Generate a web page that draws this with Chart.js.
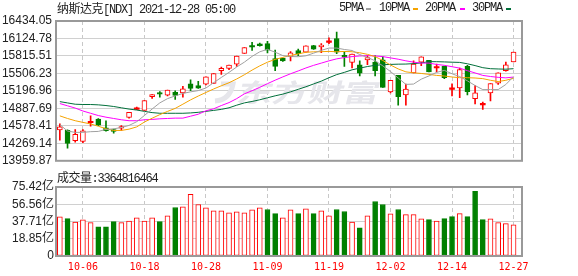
<!DOCTYPE html>
<html>
<head>
<meta charset="utf-8">
<title>纳斯达克 NDX</title>
<script src="https://cdn.jsdelivr.net/npm/chart.js@4.4.1/dist/chart.umd.min.js"></script>
<style>
  body { margin: 0; background: #fff; }
  #page { position: relative; width: 578px; height: 276px; overflow: hidden; }
  .box { position: absolute; left: 0; width: 578px; }
  .t { position: absolute; white-space: nowrap; font: 12px "Liberation Mono", monospace; letter-spacing: -1.2px; color: #222; line-height: 14px; }
  .cn { font-family: "Noto Sans CJK SC", sans-serif; letter-spacing: -0.5px; font-size: 12px; }
  .sw { position: absolute; top: 8px; width: 5px; height: 2px; }
</style>
</head>
<body>
<div id="page">
  <div class="box" style="top:0;height:172px"><canvas id="priceChart" width="578" height="172"></canvas></div>
  <div class="box" style="top:176px;height:100px"><canvas id="volChart" width="578" height="100"></canvas></div>

  <div class="t" style="left:57px;top:1px"><span class="cn">纳斯达克</span>[NDX] 2021-12-28 05:00</div>

  <div class="t" style="left:339px;top:1px">5PMA</div>
  <div class="sw" style="left:366px;background:#a0a0a0"></div>
  <div class="t" style="left:379px;top:1px">10PMA</div>
  <div class="sw" style="left:413px;background:#f5a300"></div>
  <div class="t" style="left:425px;top:1px">20PMA</div>
  <div class="sw" style="left:460px;background:#ff00ff"></div>
  <div class="t" style="left:472px;top:1px">30PMA</div>
  <div class="sw" style="left:506px;background:#006f3a"></div>

  <div class="t" style="left:57px;top:170px"><span class="cn">成交量</span>:3364816464</div>
</div>

<script>
// trading days shown
const dates = [
  '10-01','10-04','10-05','10-06','10-07','10-08','10-11','10-12','10-13','10-14',
  '10-15','10-18','10-19','10-20','10-21','10-22','10-25','10-26','10-27','10-28',
  '10-29','11-01','11-02','11-03','11-04','11-05','11-08','11-09','11-10','11-11',
  '11-12','11-15','11-16','11-17','11-18','11-19','11-22','11-23','11-24','11-26',
  '11-29','11-30','12-01','12-02','12-03','12-06','12-07','12-08','12-09','12-10',
  '12-13','12-14','12-15','12-16','12-17','12-20','12-21','12-22','12-23','12-27'
];

const open = [
  14508,14497,14314,14302,14640,14698,14543,14514,14537,14726,
  14880,14852,15093,15167,15122,15173,15162,15322,15293,15316,
  15328,15557,15597,15672,15861,15993,16016,16033,15769,15775,
  15803,15912,15884,15998,15975,16065,16125,15826,15700,15660,
  15746,15706,15746,15179,15471,15127,15517,15706,15740,15612,
  15632,15234,15248,15632,15058,14960,15162,15334,15557,15712
];
const high = [
  14612,14508,14514,14514,14755,14705,14669,14520,14583,14818,
  14910,15024,15133,15185,15213,15196,15276,15391,15368,15448,
  15505,15620,15655,15815,15964,16056,16044,16073,15918,15780,
  15895,15935,15993,16005,16033,16136,16238,15890,15849,15729,
  15821,15821,15803,15385,15471,15316,15729,15798,15740,15672,
  15637,15322,15603,15649,15293,15001,15328,15517,15706,15884
];
const low = [
  14325,14182,14291,14279,14571,14580,14486,14451,14497,14715,
  14864,14852,15064,15087,15110,15047,15087,15202,15242,15305,
  15328,15488,15574,15632,15861,15912,15987,15867,15557,15717,
  15729,15821,15884,15930,15872,16033,15855,15632,15603,15460,
  15660,15460,15259,15162,14944,14944,15517,15643,15534,15534,
  15414,15110,15076,15127,14967,14869,15018,15311,15546,15712
];
const close = [
  14560,14268,14428,14491,14652,14589,14491,14480,14566,14818,
  14887,15024,15133,15139,15213,15116,15232,15242,15246,15448,
  15505,15597,15655,15815,15964,15981,16005,15918,15632,15729,
  15872,15855,15993,15935,16010,16073,15884,15792,15849,15511,
  15786,15557,15259,15385,15093,15230,15672,15798,15534,15620,
  15431,15242,15574,15185,15162,14967,15328,15517,15660,15884
];

// moving average lines
const ma5 = [
  14600,14486,14463,14463,14475,14480,14515,14525,14550,14586,
  14652,14762,14876,14985,15060,15108,15152,15180,15202,15248,
  15342,15435,15525,15620,15706,15808,15889,15933,15882,15822,
  15805,15802,15818,15865,15915,15955,15955,15930,15912,15840,
  15790,15730,15640,15540,15425,15312,15318,15405,15462,15525,
  15560,15500,15450,15375,15292,15220,15220,15220,15310,15450
];
const ma10 = [
  14755,14709,14669,14640,14612,14572,14526,14497,14497,14520,
  14560,14646,14713,14777,14834,14887,14962,15038,15106,15169,
  15231,15288,15341,15408,15483,15565,15640,15705,15755,15790,
  15825,15852,15880,15889,15891,15896,15890,15895,15890,15872,
  15844,15804,15735,15655,15586,15534,15517,15506,15489,15471,
  15460,15443,15431,15431,15425,15414,15385,15362,15385,15420
];
const ma20 = [
  14973,14933,14893,14841,14801,14761,14732,14709,14686,14669,
  14669,14686,14692,14703,14709,14715,14715,14749,14784,14845,
  14880,14938,14990,15060,15145,15200,15260,15325,15387,15445,
  15500,15550,15603,15649,15689,15729,15764,15787,15804,15815,
  15821,15815,15804,15781,15758,15729,15706,15689,15689,15665,
  15650,15625,15600,15555,15515,15471,15452,15437,15428,15442
];
const ma30 = [
  15007,14984,14961,14956,14956,14950,14938,14921,14898,14875,
  14858,14835,14813,14801,14801,14801,14801,14807,14818,14835,
  14852,14870,14898,14944,14985,15010,15040,15075,15110,15140,
  15180,15225,15270,15320,15370,15430,15485,15525,15570,15600,
  15628,15650,15660,15666,15670,15672,15680,15692,15715,15714,
  15710,15705,15701,15677,15645,15608,15590,15585,15581,15590
];

// volume in 亿, 1 = up day (red hollow), 0 = down day (green)
const volume = [
  42.7,40.8,37.2,39.4,36.4,32.0,32.0,37.5,36.4,38.3,
  41.6,38.3,41.6,37.5,43.8,53.0,53.7,67.3,56.3,52.6,
  49.3,49.3,47.1,48.2,47.1,50.4,52.6,50.8,46.4,41.6,
  50.4,46.4,51.5,46.4,49.3,43.8,50.8,48.6,37.2,30.9,
  43.8,59.6,56.3,46.0,50.8,45.3,45.3,40.5,39.7,38.3,
  40.8,43.1,46.4,43.1,70.7,39.7,40.5,36.4,35.3,34.2
];
const volUp = [
  1,0,1,1,1,0,0,0,1,1, 1,1,1,0,1,0,1,1,1,1, 1,1,1,1,1,1,1,0,0,1,
  1,0,1,0,1,1,0,0,1,0, 1,0,0,1,0,1,1,1,0,1, 0,0,1,0,0,0,1,1,1,1
];

const priceTicks = [13959.87,14269.14,14578.41,14887.69,15196.96,15506.23,15815.51,16124.78,16434.05];
const volTicks = [0, 18.855, 37.71, 56.565, 75.42];
const volTickLabels = ['0', '18.85亿', '37.71亿', '56.56亿', '75.42亿'];
const gridIdx = [3, 11, 19, 27, 35, 43, 51, 59];

const RED = '#ff0000';
const GREEN = '#008000';
const LABEL = '#222';

function xAxis(showLabels) {
  return {
    type: 'linear', min: -0.5, max: 60.1, offset: false,
    afterBuildTicks: s => { s.ticks = gridIdx.map(v => ({ value: v })); },
    afterFit: s => { s.height = showLabels ? 20 : 0; },
    grid: { color: '#c8c8c8', lineWidth: 1, drawTicks: false, offset: false },
    border: { display: false, dash: [4, 3] },
    ticks: {
      display: showLabels, autoSkip: false, maxRotation: 0, padding: 5,
      color: RED, font: { family: 'DejaVu Sans Mono', size: 10 },
      callback: v => dates[v]
    }
  };
}

const framePlugin = {
  id: 'frame',
  afterDraw(chart) {
    const { ctx, chartArea: a } = chart;
    ctx.save();
    ctx.strokeStyle = '#999';
    ctx.lineWidth = 2;
    ctx.strokeRect(a.left, a.top, a.right - a.left, a.bottom - a.top);
    ctx.restore();
  }
};

const markPlugin = {
  id: 'mark',
  beforeDatasetsDraw(chart) {
    const ctx = chart.ctx;
    ctx.save();
    ctx.fillStyle = '#e6e6eb';
    ctx.font = 'bold 36px "Noto Sans CJK SC"';
    ctx.textBaseline = 'middle';
    const w = ctx.measureText('东方财富').width;
    ctx.translate(238, 92);
    ctx.transform(1, 0, -0.25, 1, 0, 0);
    ctx.scale(142 / w, 0.7);
    ctx.fillText('东方财富', 0, 0);
    ctx.restore();
    // little logo in front of the text
    ctx.save();
    ctx.strokeStyle = '#e6e6eb';
    ctx.lineWidth = 5;
    ctx.beginPath();
    ctx.moveTo(221, 84);
    ctx.lineTo(233, 84);
    ctx.quadraticCurveTo(230, 100, 215, 101);
    ctx.stroke();
    ctx.restore();
  }
};

const isUp = close.map((c, i) => c >= open[i]);
const isFlat = close.map((c, i) => Math.abs(c - open[i]) < 20);
const candleColor = isUp.map(u => u ? RED : GREEN);

const wickData = dates.map((d, i) => ({ x: i, y: [low[i], high[i]] }));
const bodyData = dates.map((d, i) => {
  let lo = Math.min(open[i], close[i]);
  let hi = Math.max(open[i], close[i]);
  if (isFlat[i]) { const m = (lo + hi) / 2; lo = m - 13; hi = m + 13; }
  return { x: i, y: [lo, hi] };
});

function maLine(values, color) {
  return {
    type: 'line', data: values.map((v, i) => ({ x: i, y: v })),
    borderColor: color, borderWidth: 1, pointRadius: 0, tension: 0, order: 0
  };
}

new Chart(document.getElementById('priceChart'), {
  type: 'bar',
  data: {
    datasets: [
      maLine(ma5, '#a0a0a0'),
      maLine(ma10, '#f5a300'),
      maLine(ma20, '#ff00ff'),
      maLine(ma30, '#006f3a'),
      {
        data: bodyData, order: 1, grouped: false, barThickness: 5,
        backgroundColor: dates.map((d, i) => isFlat[i] ? candleColor[i] : (isUp[i] ? '#fff' : GREEN)),
        borderColor: candleColor, borderWidth: dates.map((d, i) => isFlat[i] ? 0 : 1), borderSkipped: false
      },
      {
        data: wickData, order: 2, grouped: false, barThickness: 1,
        backgroundColor: candleColor, borderWidth: 0
      }
    ]
  },
  options: {
    responsive: false, animation: false, devicePixelRatio: 1, events: [],
    layout: { padding: { top: 21, right: 56, bottom: 7, left: 0 } },
    plugins: { legend: { display: false }, tooltip: { enabled: false } },
    scales: {
      x: xAxis(false),
      y: {
        type: 'linear', min: 13959.87, max: 16434.05,
        afterBuildTicks: s => { s.ticks = priceTicks.map(v => ({ value: v })); },
        afterFit: s => { s.width = 56; },
        grid: { color: '#d0d0d0', drawTicks: false },
        border: { display: false },
        ticks: { autoSkip: false, padding: 4, color: LABEL, font: { family: 'Liberation Sans', size: 12 }, callback: v => v.toFixed(2) }
      }
    }
  },
  plugins: [markPlugin, framePlugin]
});

new Chart(document.getElementById('volChart'), {
  type: 'bar',
  data: {
    datasets: [{
      data: volume.map((v, i) => ({ x: i, y: v })),
      grouped: false, barThickness: 5, borderWidth: 1, borderSkipped: false,
      backgroundColor: volUp.map(u => u ? '#fff' : GREEN),
      borderColor: volUp.map(u => u ? RED : GREEN)
    }]
  },
  options: {
    responsive: false, animation: false, devicePixelRatio: 1, events: [],
    layout: { padding: { top: 11, right: 56, bottom: 0, left: 0 } },
    plugins: { legend: { display: false }, tooltip: { enabled: false } },
    scales: {
      x: xAxis(true),
      y: {
        type: 'linear', min: 0, max: 75.42,
        afterBuildTicks: s => { s.ticks = volTicks.map(v => ({ value: v })); },
        afterFit: s => { s.width = 56; },
        grid: { color: '#d0d0d0', drawTicks: false },
        border: { display: false },
        ticks: {
          autoSkip: false, padding: 2, color: LABEL,
          font: { family: '"Liberation Sans", "Noto Sans CJK SC"', size: 12 },
          callback: (v, i) => volTickLabels[i]
        }
      }
    }
  },
  plugins: [framePlugin]
});
</script>
</body>
</html>
